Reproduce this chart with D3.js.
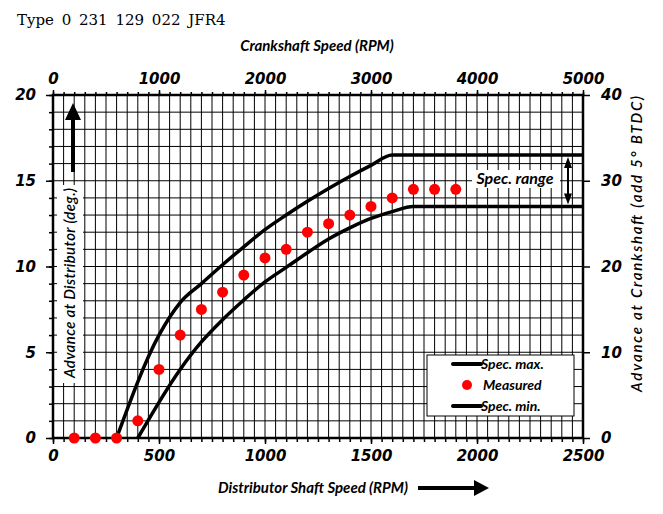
<!DOCTYPE html>
<html>
<head>
<meta charset="utf-8">
<title>Advance curve</title>
<script src="https://d3js.org/d3.v7.min.js"></script>
<style>
body { margin: 0; background: #fff; }
.tick text {
  font-family: "DejaVu Sans";
  font-weight: bold;
  font-style: italic;
  font-size: 15px;
  fill: #000;
}
.lbl {
  font-family: Lato;
  font-weight: bold;
  font-style: italic;
}
</style>
</head>
<body>
<div id="my_dataviz"></div>
<script>
// distributor shaft speed (rpm) and advance at distributor (deg.)
var specMaxRpm = [300, 500, 600, 700, 800, 900, 1000, 1100, 1200, 1300, 1400, 1500, 1600, 2500];
var specMaxDeg = [0, 6, 7.9, 9.0, 10.1, 11.15, 12.15, 13.0, 13.8, 14.55, 15.25, 15.9, 16.5, 16.5];
var specMinRpm = [400, 600, 700, 800, 900, 1000, 1100, 1200, 1300, 1400, 1500, 1600, 1700, 2500];
var specMinDeg = [0, 4, 5.6, 6.9, 8.05, 9.1, 9.95, 10.8, 11.6, 12.25, 12.8, 13.2, 13.5, 13.5];
var measuredRpm = [100, 200, 300, 400, 500, 600, 700, 800, 900, 1000, 1100, 1200, 1300, 1400, 1500, 1600, 1700, 1800, 1900];
var measuredDeg = [0, 0, 0, 1, 4, 6, 7.5, 8.5, 9.5, 10.5, 11, 12, 12.5, 13, 13.5, 14, 14.5, 14.5, 14.5];

var bottomTicks = [0, 500, 1000, 1500, 2000, 2500];
var topTicks = [0, 1000, 2000, 3000, 4000, 5000];
var leftTicks = [0, 5, 10, 15, 20];
var rightTicks = [0, 10, 20, 30, 40];

var margin = {top: 95, left: 53},
    width = 530,
    height = 343;

var svg = d3.select("#my_dataviz")
  .append("svg")
    .attr("width", 663)
    .attr("height", 514);

svg.append("text")
  .attr("x", 17).attr("y", 25)
  .style("font-family", "DejaVu Serif")
  .style("font-size", "15px")
  .style("word-spacing", "3px")
  .text("Type 0 231 129 022 JFR4");

var g = svg.append("g")
  .attr("transform", "translate(" + margin.left + "," + margin.top + ")");

var x = d3.scaleLinear().domain([0, 2500]).range([0, width]);
var xTop = d3.scaleLinear().domain([0, 5000]).range([0, width]);
var y = d3.scaleLinear().domain([0, 20]).range([height, 0]);
var yRight = d3.scaleLinear().domain([0, 40]).range([height, 0]);
var fmt = d3.format("d");

// grid
g.append("g").selectAll("line")
  .data(d3.range(50, 2500, 50))
  .enter().append("line")
    .attr("x1", function(d) { return x(d); })
    .attr("x2", function(d) { return x(d); })
    .attr("y1", 0).attr("y2", height)
    .attr("stroke", "#000").attr("stroke-width", 1);
g.append("g").selectAll("line")
  .data(d3.range(1, 20, 1))
  .enter().append("line")
    .attr("y1", function(d) { return y(d); })
    .attr("y2", function(d) { return y(d); })
    .attr("x1", 0).attr("x2", width)
    .attr("stroke", "#000").attr("stroke-width", 1);

// white boxes over the grid
g.append("rect")
  .attr("x", 4).attr("y", 90).attr("width", 26).attr("height", 198)
  .attr("fill", "#fff");
g.append("rect")
  .attr("x", 419).attr("y", 75).attr("width", 88).attr("height", 18)
  .attr("fill", "#fff");

// axes
function styleAxis(a) {
  a.select(".domain").remove();
  a.selectAll(".tick line").attr("stroke", "#000").attr("stroke-width", 1.5);
}
g.append("g")
  .attr("transform", "translate(0," + height + ")")
  .call(d3.axisBottom(x).tickValues(d3.range(0, 2501, 50)).tickSize(4).tickFormat(""))
  .call(styleAxis);
g.append("g")
  .attr("transform", "translate(0," + height + ")")
  .call(d3.axisBottom(x).tickValues(bottomTicks).tickFormat(fmt).tickSize(6).tickPadding(6))
  .call(styleAxis);
g.append("g")
  .call(d3.axisTop(xTop).tickValues(d3.range(0, 5001, 100)).tickSize(3).tickFormat(""))
  .call(styleAxis);
g.append("g")
  .call(d3.axisTop(xTop).tickValues(topTicks).tickFormat(fmt).tickSize(5).tickPadding(6))
  .call(styleAxis);
g.append("g")
  .call(d3.axisLeft(y).tickValues(d3.range(0, 21, 1)).tickSize(4).tickFormat(""))
  .call(styleAxis);
g.append("g")
  .call(d3.axisLeft(y).tickValues(leftTicks).tickSize(7).tickPadding(10))
  .call(styleAxis);
g.append("g")
  .attr("transform", "translate(" + width + ",0)")
  .call(d3.axisRight(yRight).tickValues(rightTicks).tickSize(7).tickPadding(11))
  .call(styleAxis);

// frame
g.append("rect")
  .attr("width", width).attr("height", height)
  .attr("fill", "none").attr("stroke", "#000").attr("stroke-width", 2.5);

// spec lines
var line = d3.line()
  .x(function(d) { return x(d[0]); })
  .y(function(d) { return y(d[1]); })
  .curve(d3.curveMonotoneX);

g.append("path")
  .datum(d3.zip(specMaxRpm, specMaxDeg))
  .attr("d", line)
  .attr("fill", "none").attr("stroke", "#000").attr("stroke-width", 3.5);
g.append("path")
  .datum(d3.zip(specMinRpm, specMinDeg))
  .attr("d", line)
  .attr("fill", "none").attr("stroke", "#000").attr("stroke-width", 3.5);

// measured points
g.append("g").selectAll("circle")
  .data(d3.zip(measuredRpm, measuredDeg))
  .enter().append("circle")
    .attr("cx", function(d) { return x(d[0]); })
    .attr("cy", function(d) { return y(d[1]); })
    .attr("r", 5.5)
    .attr("fill", "#f00");

// spec range arrow
var ax = 515, yHi = y(16.5) + 2, yLo = y(13.5) - 2;
g.append("line")
  .attr("x1", ax).attr("x2", ax).attr("y1", yHi + 8).attr("y2", yLo - 8)
  .attr("stroke", "#000").attr("stroke-width", 2);
g.append("path")
  .attr("d", "M" + ax + "," + yHi + "l-4,11h8z M" + ax + "," + yLo + "l-4,-11h8z")
  .attr("fill", "#000");
g.append("text").attr("class", "lbl")
  .attr("x", 462).attr("y", 89)
  .attr("text-anchor", "middle")
  .style("font-size", "16px")
  .text("Spec. range");

// legend
var lg = g.append("g").attr("transform", "translate(374,260)");
lg.append("rect")
  .attr("width", 147).attr("height", 61)
  .attr("fill", "#fff").attr("stroke", "#000").attr("stroke-width", 1);
lg.append("line").attr("x1", 26).attr("x2", 54).attr("y1", 9).attr("y2", 9)
  .attr("stroke", "#000").attr("stroke-width", 4).attr("stroke-linecap", "round");
lg.append("circle").attr("cx", 40).attr("cy", 30).attr("r", 5).attr("fill", "#f00");
lg.append("line").attr("x1", 26).attr("x2", 54).attr("y1", 51).attr("y2", 51)
  .attr("stroke", "#000").attr("stroke-width", 4).attr("stroke-linecap", "round");
lg.selectAll("text")
  .data([["Spec. max.", 9], ["Measured", 30], ["Spec. min.", 51]])
  .enter().append("text").attr("class", "lbl")
    .attr("x", function(d, i) { return i == 1 ? 56 : 54; })
    .attr("y", function(d) { return d[1]; })
    .attr("dy", "0.35em")
    .style("font-size", "14px")
    .text(function(d) { return d[0]; });

// axis titles
svg.append("text").attr("class", "lbl")
  .attr("x", 317).attr("y", 51)
  .attr("text-anchor", "middle")
  .style("font-size", "15px")
  .text("Crankshaft Speed (RPM)");
svg.append("text").attr("class", "lbl")
  .attr("x", 313).attr("y", 493)
  .attr("text-anchor", "middle")
  .style("font-size", "15px")
  .text("Distributor Shaft Speed (RPM)");
svg.append("path")
  .attr("d", "M418,486h56v-6l15,8l-15,8v-6h-56z")
  .attr("fill", "#000");

svg.append("text")
  .attr("transform", "translate(75,283) rotate(-90)")
  .attr("text-anchor", "middle")
  .attr("textLength", 190)
  .style("font-family", "Lato").style("font-style", "italic").style("font-weight", "600")
  .style("font-size", "15px")
  .text("Advance at Distributor (deg.)");
svg.append("path")
  .attr("d", "M71,172v-52h-6l8,-17l8,17h-6v52z")
  .attr("fill", "#000");

svg.append("text")
  .attr("transform", "translate(642,244) rotate(-90)")
  .attr("text-anchor", "middle")
  .attr("textLength", 296)
  .style("font-family", "Lato").style("font-style", "italic").style("font-weight", "600")
  .style("font-size", "15px")
  .text("Advance at Crankshaft (add 5° BTDC)");
</script>
</body>
</html>
